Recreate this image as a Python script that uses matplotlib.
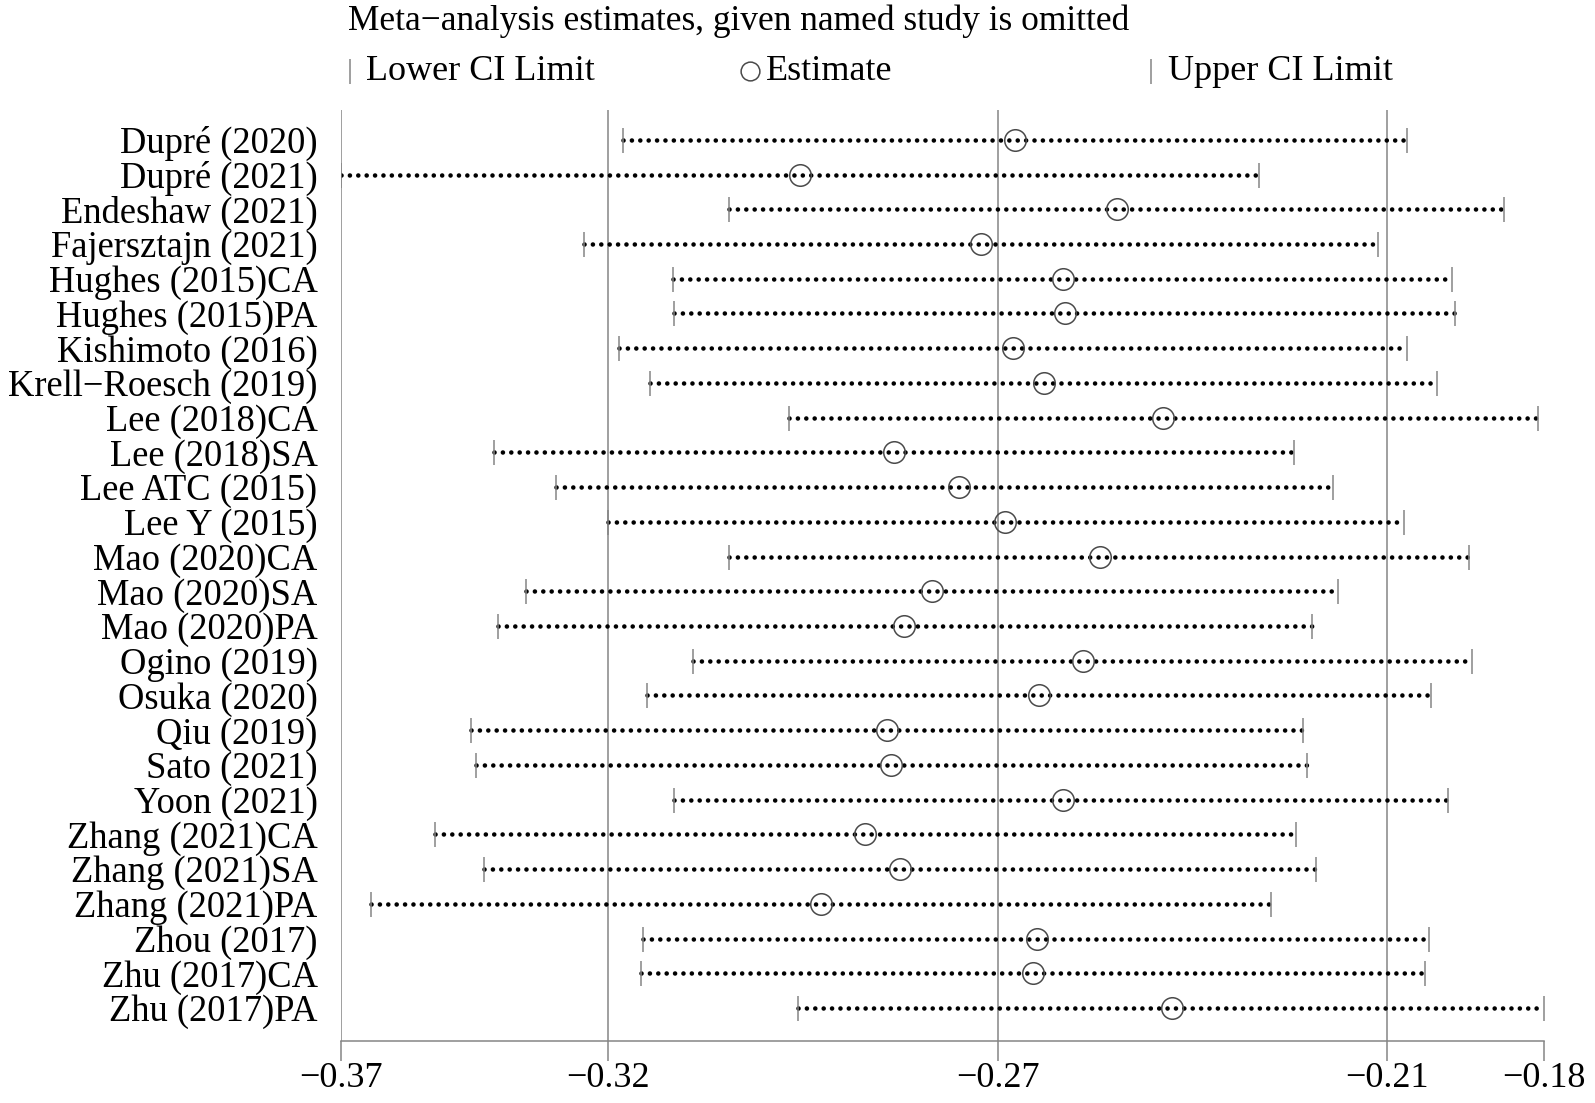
import matplotlib
matplotlib.use("Agg")
from matplotlib import pyplot as plt
import numpy as np

studies = ["Dupré (2020)", "Dupré (2021)", "Endeshaw (2021)", "Fajersztajn (2021)",
           "Hughes (2015)CA", "Hughes (2015)PA", "Kishimoto (2016)", "Krell\u2212Roesch (2019)",
           "Lee (2018)CA", "Lee (2018)SA", "Lee ATC (2015)", "Lee Y (2015)",
           "Mao (2020)CA", "Mao (2020)SA", "Mao (2020)PA", "Ogino (2019)",
           "Osuka (2020)", "Qiu (2019)", "Sato (2021)", "Yoon (2021)",
           "Zhang (2021)CA", "Zhang (2021)SA", "Zhang (2021)PA", "Zhou (2017)",
           "Zhu (2017)CA", "Zhu (2017)PA"]
lower = [-0.3224, -0.3653, -0.3062, -0.3283, -0.3148, -0.3146, -0.3230, -0.3183,
         -0.2971, -0.3420, -0.3326, -0.3247, -0.3062, -0.3371, -0.3414, -0.3118,
         -0.3188, -0.3455, -0.3448, -0.3146, -0.3510, -0.3436, -0.3607, -0.3193,
         -0.3197, -0.2958]
estimate = [-0.2628, -0.2955, -0.2472, -0.2679, -0.2555, -0.2552, -0.2631, -0.2583,
            -0.2402, -0.2811, -0.2713, -0.2642, -0.2498, -0.2754, -0.2796, -0.2524,
            -0.2591, -0.2822, -0.2816, -0.2555, -0.2855, -0.2803, -0.2923, -0.2594,
            -0.2600, -0.2389]
upper = [-0.2031, -0.2256, -0.1883, -0.2075, -0.1962, -0.1958, -0.2030, -0.1985,
         -0.1831, -0.2203, -0.2144, -0.2036, -0.1937, -0.2135, -0.2176, -0.1932,
         -0.1994, -0.2189, -0.2183, -0.1968, -0.2200, -0.2169, -0.2237, -0.1997,
         -0.2003, -0.1822]
# combined estimate (all studies)
overall_lower = -0.3247
overall_est = -0.2653
overall_upper = -0.2061

plt.rcParams['font.family'] = ['Liberation Serif', 'DejaVu Serif']
grey = '#858585'
W, H = 1595, 1103

fig = plt.figure(figsize=(W / 100, H / 100), dpi=100)
ax = fig.add_axes([341.2 / W, 62 / H, 1202.9 / W, 931 / H])

y = np.arange(len(studies))
xmin, xmax = min(lower), max(upper)
ticks = [xmin, overall_lower, overall_est, overall_upper, xmax]

for t in ticks[:-1]:
    ax.axvline(t, color=grey, lw=1.1, zorder=1)

for i in range(len(studies)):
    ax.plot([lower[i], upper[i]], [y[i], y[i]], color='black', lw=3.3,
            ls=(0, (0.01, 1.82)), dash_capstyle='round', zorder=2)
ax.plot(lower, y, ls='none', marker='|', ms=18, mew=1.1, color=grey, zorder=3)
ax.plot(upper, y, ls='none', marker='|', ms=18, mew=1.1, color=grey, zorder=3)
ax.plot(estimate, y, ls='none', marker='o', ms=15.5, mfc='none', mec='#4a4a4a',
        mew=1.1, zorder=4)

ax.set_xlim(xmin, xmax)
ax.set_ylim(len(studies) - 1 + 0.95, -0.86)
ax.set_yticks(y)
ax.set_yticklabels(studies, fontsize=26.3)
ax.set_xticks(ticks)
ax.set_xticklabels([f"{t:.2f}".replace('-', '\u2212') for t in ticks], fontsize=26)
ax.tick_params(axis='y', length=0, pad=17)
ax.tick_params(axis='x', length=14.4, width=1.1, color=grey, pad=1)
for s in ['top', 'right', 'left']:
    ax.spines[s].set_visible(False)
ax.spines['bottom'].set_color(grey)
ax.spines['bottom'].set_linewidth(1.1)

# title and key
fig.text(348 / W, 1 - 21 / H, "Meta\u2212analysis estimates, given named study is omitted",
         fontsize=25.5, ha='left', va='center')
ky = 1 - 71 / H
ax.plot([349.5 / W], [ky], transform=fig.transFigure, clip_on=False,
        marker='|', ms=18, mew=1.1, color=grey, ls='none')
fig.text(366.5 / W, ky, "Lower CI Limit", fontsize=26, ha='left', va='center')
ax.plot([750 / W], [ky], transform=fig.transFigure, clip_on=False,
        marker='o', ms=13.5, mfc='none', mec='#4a4a4a', mew=1.1, ls='none')
fig.text(766 / W, ky, "Estimate", fontsize=26, ha='left', va='center')
ax.plot([1151 / W], [ky], transform=fig.transFigure, clip_on=False,
        marker='|', ms=18, mew=1.1, color=grey, ls='none')
fig.text(1168 / W, ky, "Upper CI Limit", fontsize=26, ha='left', va='center')

fig.savefig("out.png", dpi=100)
